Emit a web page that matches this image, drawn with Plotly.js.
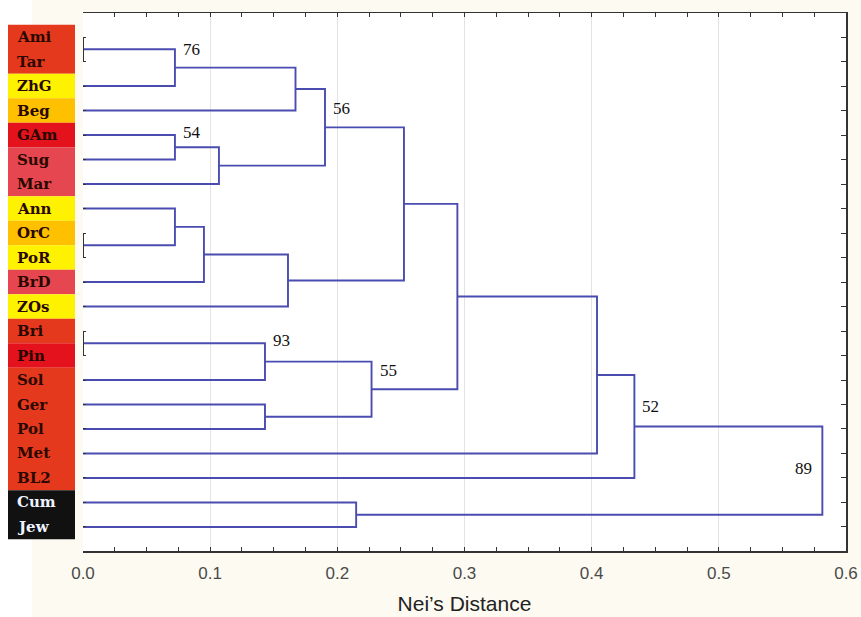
<!DOCTYPE html>
<html>
<head>
<meta charset="utf-8">
<script src="https://cdn.plot.ly/plotly-3.0.1.min.js"></script>
<style>html,body{margin:0;padding:0;background:#fdfaf2;}#chart{width:861px;height:617px;}</style>
</head>
<body>
<div id="chart"></div>
<script>
// ---- data ----
const labels = ['Ami','Tar','ZhG','Beg','GAm','Sug','Mar','Ann','OrC','PoR','BrD','ZOs','Bri','Pin','Sol','Ger','Pol','Met','BL2','Cum','Jew'];
const labelColors = ['#e5391d','#e5391d','#fff200','#ffc000','#e3121c','#e5464f','#e5464f','#fff200','#ffc000','#fff200','#e5464f','#fff200','#e5391d','#e3121c','#e5391d','#e5391d','#e5391d','#e5391d','#e5391d','#111111','#111111'];
const labelTextColors = ['#2a0800','#2a0800','#2a0800','#2a0800','#2a0800','#2a0800','#2a0800','#2a0800','#2a0800','#2a0800','#2a0800','#2a0800','#2a0800','#2a0800','#2a0800','#2a0800','#2a0800','#2a0800','#2a0800','#eef3ff','#eef3ff'];
// merges: ids 0..20 are leaves, merge k gets id 21+k
const mergeA = [0,8,12,21,24,4,26,25,7,29,30,28,23,15,33,32,36,37,19,38];
const mergeB = [1,9,13,2,3,5,6,27,22,10,11,31,14,16,34,35,17,18,20,39];
const mergeHeight = [0,0,0,0.0723,0.1671,0.0723,0.1069,0.1903,0.0723,0.0951,0.1612,0.2524,0.1431,0.1431,0.2269,0.2944,0.4042,0.4336,0.2148,0.5814];
const supportNode = [24,26,28,33,35,38,40];
const supportValue = [76,54,56,93,55,52,89];
const xTickValues = [0,0.1,0.2,0.3,0.4,0.5,0.6];

// ---- build dendrogram ----
const nLeaf = labels.length;
const nodeY = [], nodeH = [];
for (let i = 0; i < nLeaf; i++) { nodeY.push(i); nodeH.push(0); }
const bx = [], by = [], zx = [], zy = [];
for (let k = 0; k < mergeA.length; k++) {
  const a = mergeA[k], b = mergeB[k], h = mergeHeight[k];
  if (h === 0) {
    zx.push(0, 0, null); zy.push(nodeY[a], nodeY[b], null);
  } else {
    bx.push(nodeH[a], h, h, nodeH[b], null);
    by.push(nodeY[a], nodeY[a], nodeY[b], nodeY[b], null);
  }
  nodeY.push((nodeY[a] + nodeY[b]) / 2);
  nodeH.push(h);
}

const rows = labels.map((_, i) => i);
const yr = [20.98, -0.98];

const traces = [
  {x: bx, y: by, type: 'scatter', mode: 'lines', line: {color: '#4a4cb0', width: 1.9}, hoverinfo: 'skip', showlegend: false},
  {x: zx, y: zy, type: 'scatter', mode: 'lines', line: {color: '#333', width: 2}, hoverinfo: 'skip', showlegend: false},
  {x: [0.3], y: [10], yaxis: 'y2', type: 'scatter', mode: 'markers', marker: {opacity: 0}, hoverinfo: 'skip', showlegend: false}
];

const W = 861 - 83 - 15;
const px = v => (v - 83) / W;

const shapes = [
  {type: 'rect', xref: 'paper', yref: 'paper', x0: px(0), x1: px(32), y0: -0.2, y1: 1.1, fillcolor: '#ffffff', line: {width: 0}, layer: 'below'}
];
const annotations = [];
// colour blocks: merge runs of equal colour so no seams appear
let start = 0;
for (let i = 1; i <= labels.length; i++) {
  if (i === labels.length || labelColors[i] !== labelColors[start]) {
    shapes.push({type: 'rect', xref: 'paper', yref: 'y', x0: px(8), x1: px(75), y0: start - 0.5, y1: i - 0.5,
      fillcolor: labelColors[start], line: {width: 0}});
    start = i;
  }
}
labels.forEach((lab, i) => {
  annotations.push({xref: 'paper', yref: 'y', x: px(15), y: i, xanchor: 'left', yanchor: 'middle', showarrow: false,
    text: '<b>' + lab + '</b>', font: {family: 'DejaVu Serif, serif', size: 15, color: labelTextColors[i]}});
});

// support label placement (row positions)
const supportRow = [0.52, 3.9, 2.9, 12.4, 13.6, 15.1, 17.62];
supportNode.forEach((id, j) => {
  const right = (j === supportNode.length - 1);
  annotations.push({xref: 'x', yref: 'y', x: nodeH[id], y: supportRow[j], xanchor: right ? 'right' : 'left', yanchor: 'middle',
    xshift: right ? -8 : 6, showarrow: false, text: String(supportValue[j]),
    font: {family: 'Liberation Serif, Times New Roman, serif', size: 17, color: '#111'}});
});

const layout = {
  width: 861, height: 617,
  margin: {l: 83, r: 15, t: 13, b: 66},
  paper_bgcolor: '#fdfaf2', plot_bgcolor: '#ffffff',
  showlegend: false,
  xaxis: {
    range: [0, 0.6], tickvals: xTickValues, tickformat: '.1f',
    showline: true, mirror: 'ticks', linecolor: '#333', linewidth: 1.5,
    ticks: 'inside', ticklen: 4, tickcolor: '#333', tickwidth: 1,
    minor: {dtick: 0.025, tick0: 0, ticks: 'inside', ticklen: 4, tickcolor: '#333', showgrid: false},
    showgrid: true, gridcolor: '#e2e3ea', gridwidth: 1, zeroline: false,
    ticklabelstandoff: 6,
    tickfont: {family: 'Liberation Sans, Arial, sans-serif', size: 17, color: '#4a4a4a'},
    title: {text: 'Nei’s Distance', standoff: 14, font: {family: 'Liberation Sans, Arial, sans-serif', size: 21, color: '#222'}},
    automargin: false, fixedrange: true
  },
  yaxis: {
    range: yr, tickvals: rows, showticklabels: false, showline: false, showgrid: false, zeroline: false,
    ticks: 'inside', ticklen: 3, tickcolor: '#333', automargin: false, fixedrange: true
  },
  yaxis2: {
    overlaying: 'y', side: 'right', range: yr, tickvals: rows, showticklabels: false,
    showline: true, linecolor: '#333', linewidth: 1.5, showgrid: false, zeroline: false,
    ticks: 'inside', ticklen: 5, tickcolor: '#333', automargin: false, fixedrange: true
  },
  shapes: shapes,
  annotations: annotations
};

Plotly.newPlot('chart', traces, layout, {displayModeBar: false, staticPlot: true});
</script>
</body>
</html>
